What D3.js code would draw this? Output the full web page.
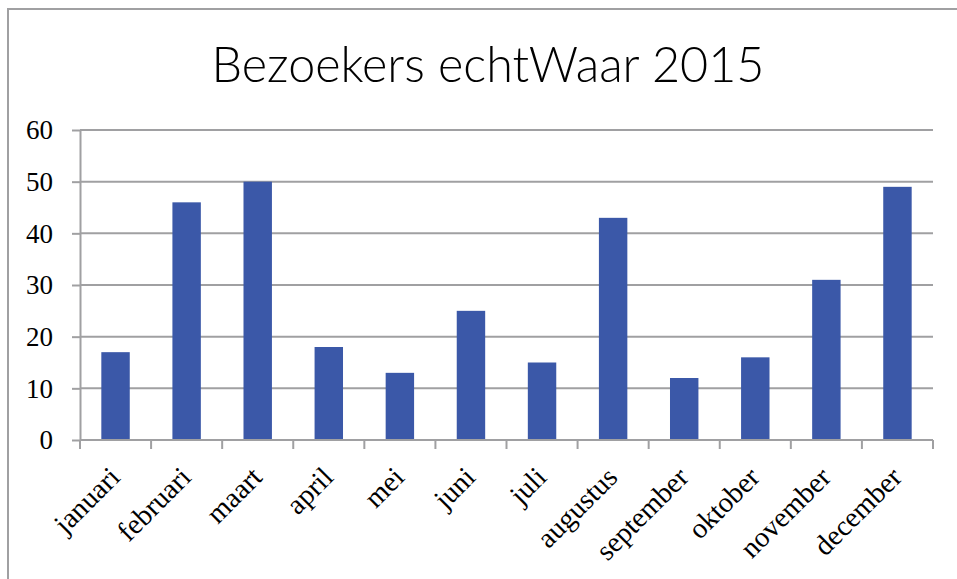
<!DOCTYPE html>
<head>
  <meta charset="utf-8">
  <script src="https://d3js.org/d3.v7.min.js"></script>
  <style>
    body { margin: 0; background: #fff; }
    .title { font-family: Lato, "Open Sans", sans-serif; font-weight: 300; font-size: 48.5px; fill: #000; }
    .axis text { font-family: "Liberation Serif", "DejaVu Serif", serif; font-size: 27px; fill: #000; }
    .axis .label { font-size: 28.5px; }
    .axis path, .axis line { stroke: #a0a0a2; stroke-width: 2px; }
    .grid line { stroke: #a0a0a2; stroke-width: 2px; }
  </style>
</head>
<body>
  <div id="vis"></div>
  <script>
    var months = ["januari", "februari", "maart", "april", "mei", "juni",
      "juli", "augustus", "september", "oktober", "november", "december"];
    var visitors = [17, 46, 50, 18, 13, 25, 15, 43, 12, 16, 31, 49];
    var yTicks = [0, 10, 20, 30, 40, 50, 60];
    var title = "Bezoekers echtWaar 2015";

    var W = 957, H = 579;
    var margin = { top: 130, right: 24, bottom: 139, left: 80 },
      width = W - margin.left - margin.right,
      height = H - margin.top - margin.bottom;

    var svg = d3.select("#vis").append("svg")
      .attr("width", W)
      .attr("height", H);

    // chart frame (runs off the right and bottom edge)
    svg.append("rect")
      .attr("x", 8).attr("y", 9)
      .attr("width", 1200).attr("height", 1200)
      .attr("fill", "none")
      .attr("stroke", "#a0a0a2")
      .attr("stroke-width", 2);

    svg.append("text")
      .attr("class", "title")
      .attr("x", 488)
      .attr("y", 82)
      .attr("text-anchor", "middle")
      .text(title);

    var g = svg.append("g")
      .attr("transform", "translate(" + margin.left + "," + margin.top + ")");

    var x = d3.scaleBand()
      .domain(months)
      .range([0, width])
      .paddingInner(0.6)
      .paddingOuter(0.3);

    var xb = d3.scaleLinear()
      .domain([0, months.length])
      .range([0, width]);

    var y = d3.scaleLinear()
      .domain([0, 60])
      .range([height, 0]);

    // gridlines
    g.append("g")
      .attr("class", "grid")
      .selectAll("line")
      .data(yTicks.slice(1))
      .enter().append("line")
      .attr("x1", 0)
      .attr("x2", width)
      .attr("y1", d => y(d))
      .attr("y2", d => y(d));

    // bars
    g.selectAll(".bar")
      .data(visitors)
      .enter().append("rect")
      .attr("class", "bar")
      .attr("x", (d, i) => x(months[i]))
      .attr("width", x.bandwidth())
      .attr("y", d => y(d))
      .attr("height", d => height - y(d))
      .attr("fill", "#3b58a8");

    // y axis
    var yAxis = g.append("g")
      .attr("class", "axis")
      .call(d3.axisLeft(y).tickValues(yTicks).tickSize(8).tickPadding(19).tickSizeOuter(0));
    yAxis.selectAll("text").attr("dy", "0.33em");

    // x axis: tick marks at the category boundaries
    var xAxis = g.append("g")
      .attr("class", "axis")
      .attr("transform", "translate(0," + height + ")");
    xAxis.append("line")
      .attr("x1", 0).attr("x2", width);
    xAxis.selectAll(".tick-mark")
      .data(d3.range(months.length + 1))
      .enter().append("line")
      .attr("class", "tick-mark")
      .attr("x1", d => xb(d)).attr("x2", d => xb(d))
      .attr("y1", 0).attr("y2", 9);

    xAxis.selectAll(".label")
      .data(months)
      .enter().append("text")
      .attr("class", "label")
      .attr("text-anchor", "end")
      .attr("transform", d => "translate(" + (x(d) + x.bandwidth() / 2 + 6) + ",39) rotate(-45)")
      .text(d => d);
  </script>
</body>
